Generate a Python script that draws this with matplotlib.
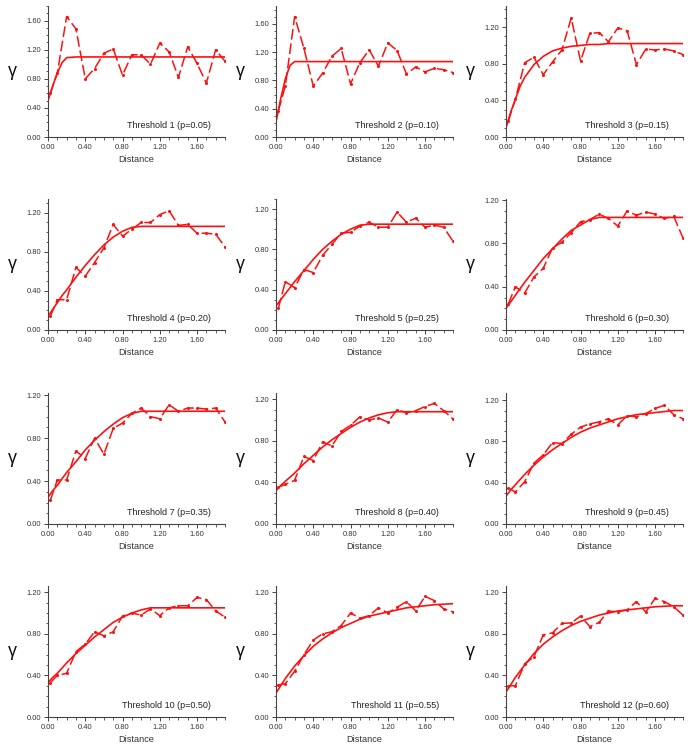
import matplotlib
matplotlib.use('Agg')
from matplotlib import pyplot as plt
from matplotlib.ticker import MultipleLocator, FormatStrFormatter

plt.rcParams['font.family'] = ['Liberation Sans', 'DejaVu Sans']

# lag distances of the experimental variogram points
lags = [0.025, 0.1, 0.2, 0.3, 0.4, 0.5, 0.6, 0.7, 0.8, 0.9, 1.0,
        1.1, 1.2, 1.3, 1.4, 1.5, 1.6, 1.7, 1.8, 1.9]

# distances where the fitted model curve was read
model_x = [0, 0.05, 0.1, 0.15, 0.2, 0.3, 0.4, 0.5, 0.6, 0.7, 0.8, 0.9,
           1.0, 1.1, 1.2, 1.3, 1.4, 1.5, 1.6, 1.7, 1.8, 1.9]

titles = ['Threshold 1 (p=0.05)', 'Threshold 2 (p=0.10)', 'Threshold 3 (p=0.15)',
          'Threshold 4 (p=0.20)', 'Threshold 5 (p=0.25)', 'Threshold 6 (p=0.30)',
          'Threshold 7 (p=0.35)', 'Threshold 8 (p=0.40)', 'Threshold 9 (p=0.45)',
          'Threshold 10 (p=0.50)', 'Threshold 11 (p=0.55)', 'Threshold 12 (p=0.60)']

exp_1 = [0.60, 0.88, 1.655, 1.485, 0.80, 0.94, 1.15, 1.21, 0.85, 1.13, 1.13, 1.00, 1.29, 1.17, 0.82, 1.24, 1.01, 0.74, 1.20, 1.04]
exp_2 = [0.37, 0.72, 1.70, 1.25, 0.72, 0.90, 1.14, 1.25, 0.75, 1.05, 1.23, 1.00, 1.33, 1.22, 0.89, 0.99, 0.92, 0.97, 0.95, 0.91]
exp_3 = [0.175, 0.41, 0.81, 0.87, 0.68, 0.82, 0.95, 1.30, 0.83, 1.13, 1.14, 1.04, 1.19, 1.16, 0.79, 0.96, 0.95, 0.96, 0.94, 0.90]
exp_4 = [0.14, 0.31, 0.31, 0.64, 0.55, 0.69, 0.84, 1.08, 0.96, 1.03, 1.10, 1.10, 1.18, 1.22, 1.07, 1.08, 0.99, 0.99, 0.98, 0.85]
exp_5 = [0.215, 0.48, 0.42, 0.60, 0.57, 0.74, 0.85, 0.96, 0.97, 1.03, 1.07, 1.02, 1.02, 1.17, 1.07, 1.11, 1.02, 1.04, 1.02, 0.88]
exp_6 = [0.24, 0.40, 0.34, 0.49, 0.57, 0.76, 0.81, 0.90, 1.00, 1.02, 1.07, 1.03, 0.96, 1.10, 1.06, 1.09, 1.07, 1.03, 1.05, 0.85]
exp_7 = [0.22, 0.41, 0.41, 0.68, 0.61, 0.80, 0.65, 0.89, 0.94, 1.03, 1.08, 1.00, 0.98, 1.11, 1.05, 1.08, 1.08, 1.07, 1.08, 0.95]
exp_8 = [0.355, 0.38, 0.42, 0.65, 0.61, 0.79, 0.75, 0.89, 0.95, 1.03, 1.00, 1.02, 0.98, 1.10, 1.07, 1.09, 1.13, 1.16, 1.09, 1.01]
exp_9 = [0.35, 0.31, 0.41, 0.59, 0.67, 0.79, 0.78, 0.87, 0.94, 0.97, 0.99, 1.02, 0.96, 1.05, 1.04, 1.07, 1.12, 1.15, 1.06, 1.02]
exp_10 = [0.33, 0.40, 0.42, 0.63, 0.70, 0.82, 0.78, 0.82, 0.97, 1.00, 0.98, 1.04, 0.975, 1.05, 1.07, 1.07, 1.15, 1.13, 1.02, 0.96]
exp_11 = [0.31, 0.32, 0.44, 0.60, 0.74, 0.80, 0.82, 0.88, 1.00, 0.95, 0.975, 1.05, 1.00, 1.055, 1.11, 1.02, 1.16, 1.12, 1.04, 1.01]
exp_12 = [0.30, 0.30, 0.51, 0.58, 0.79, 0.81, 0.90, 0.905, 0.97, 0.87, 0.91, 1.02, 1.01, 1.03, 1.11, 1.01, 1.14, 1.11, 1.06, 0.98]

mod_1 = [0.50, 0.70, 0.88, 1.02, 1.09] + [1.10] * 17
mod_2 = [0.21, 0.54, 0.82, 1.01, 1.065] + [1.065] * 17
mod_3 = [0.10, 0.27, 0.41, 0.55, 0.65, 0.79, 0.88, 0.94, 0.97, 0.99, 1.00, 1.01, 1.01] + [1.02] * 9
mod_4 = [0.14, 0.21, 0.28, 0.35, 0.41, 0.54, 0.66, 0.77, 0.87, 0.95, 1.01, 1.05, 1.06] + [1.06] * 9
mod_5 = [0.24, 0.30, 0.36, 0.42, 0.48, 0.59, 0.70, 0.80, 0.88, 0.95, 1.00, 1.04, 1.05] + [1.05] * 9
mod_6 = [0.20, 0.26, 0.32, 0.38, 0.44, 0.55, 0.66, 0.75, 0.84, 0.92, 0.97, 1.02, 1.04] + [1.04] * 9
mod_7 = [0.25, 0.31, 0.36, 0.42, 0.48, 0.58, 0.69, 0.78, 0.86, 0.93, 0.99, 1.03, 1.05] + [1.05] * 9
mod_8 = [0.32, 0.37, 0.41, 0.45, 0.49, 0.58, 0.66, 0.74, 0.81, 0.87, 0.93, 0.98, 1.02, 1.05, 1.07, 1.08] + [1.08] * 6
mod_9 = [0.27, 0.33, 0.38, 0.43, 0.48, 0.57, 0.65, 0.72, 0.78, 0.84, 0.89, 0.93, 0.96, 0.99, 1.02, 1.04, 1.06, 1.07, 1.08, 1.09, 1.10, 1.10]
mod_10 = [0.33, 0.38, 0.42, 0.47, 0.52, 0.61, 0.69, 0.77, 0.84, 0.91, 0.96, 1.00, 1.03, 1.05] + [1.05] * 8
mod_11 = [0.23, 0.30, 0.37, 0.43, 0.49, 0.59, 0.68, 0.75, 0.81, 0.86, 0.90, 0.94, 0.97, 0.99, 1.01, 1.03, 1.05, 1.06, 1.07, 1.08, 1.085, 1.09]
mod_12 = [0.24, 0.31, 0.38, 0.44, 0.50, 0.61, 0.70, 0.77, 0.83, 0.88, 0.92, 0.95, 0.98, 1.00, 1.02, 1.03, 1.04, 1.05, 1.06, 1.065, 1.07, 1.07]

experimental = [exp_1, exp_2, exp_3, exp_4, exp_5, exp_6, exp_7, exp_8, exp_9, exp_10, exp_11, exp_12]
models = [mod_1, mod_2, mod_3, mod_4, mod_5, mod_6, mod_7, mod_8, mod_9, mod_10, mod_11, mod_12]
y_tops = [1.8, 1.85, 1.43, 1.34, 1.30, 1.21, 1.22, 1.26, 1.27, 1.26, 1.26, 1.26]
y_tick_max = [1.6, 1.6, 1.2, 1.2, 1.2, 1.2, 1.2, 1.2, 1.2, 1.2, 1.2, 1.2]

W, H = 699, 752
fig = plt.figure(figsize=(W / 100, H / 100), dpi=100)

col_left = [48, 276, 506]
row_bottom = [137, 330, 524, 717]
ax_w, ax_h = 177, 131
red = '#ff1010'
axis_col = '#444444'

for i in range(12):
    r, c = divmod(i, 3)
    ax = fig.add_axes([col_left[c] / W, 1 - row_bottom[r] / H, ax_w / W, ax_h / H])

    ax.plot(model_x, models[i], color=red, lw=1.2, solid_capstyle='round')
    ax.plot(lags, experimental[i], color=red, lw=1.1, ls=(0, (7, 2.5)),
            marker='o', ms=2.2, markeredgewidth=0)

    ax.set_xlim(0, 1.9)
    ax.set_ylim(0, y_tops[i])
    ax.xaxis.set_major_locator(MultipleLocator(0.4))
    ax.xaxis.set_minor_locator(MultipleLocator(0.1))
    ax.set_yticks([k * 0.4 for k in range(int(round(y_tick_max[i] / 0.4)) + 1)])
    ax.yaxis.set_minor_locator(MultipleLocator(0.1))
    ax.xaxis.set_major_formatter(FormatStrFormatter('%.2f'))
    ax.yaxis.set_major_formatter(FormatStrFormatter('%.2f'))

    for s in ['top', 'right']:
        ax.spines[s].set_visible(False)
    for s in ['left', 'bottom']:
        ax.spines[s].set_color(axis_col)
        ax.spines[s].set_linewidth(0.8)
    ax.tick_params(which='major', direction='out', length=3, width=0.7,
                   color=axis_col, labelsize=5.4, labelcolor='#333333', pad=2)
    ax.tick_params(which='minor', direction='out', length=1.8, width=0.6, color=axis_col)

    ax.set_xlabel('Distance', fontsize=6.6, color='#333333', labelpad=3)
    ax.set_ylabel('γ', fontsize=13, rotation=0, color='#111111', labelpad=10, va='center')
    ax.text(0.92, 0.09, titles[i], transform=ax.transAxes, ha='right', va='center',
            fontsize=6.5, color='#222222')

plt.savefig('out.png', dpi=100)
plt.close()
